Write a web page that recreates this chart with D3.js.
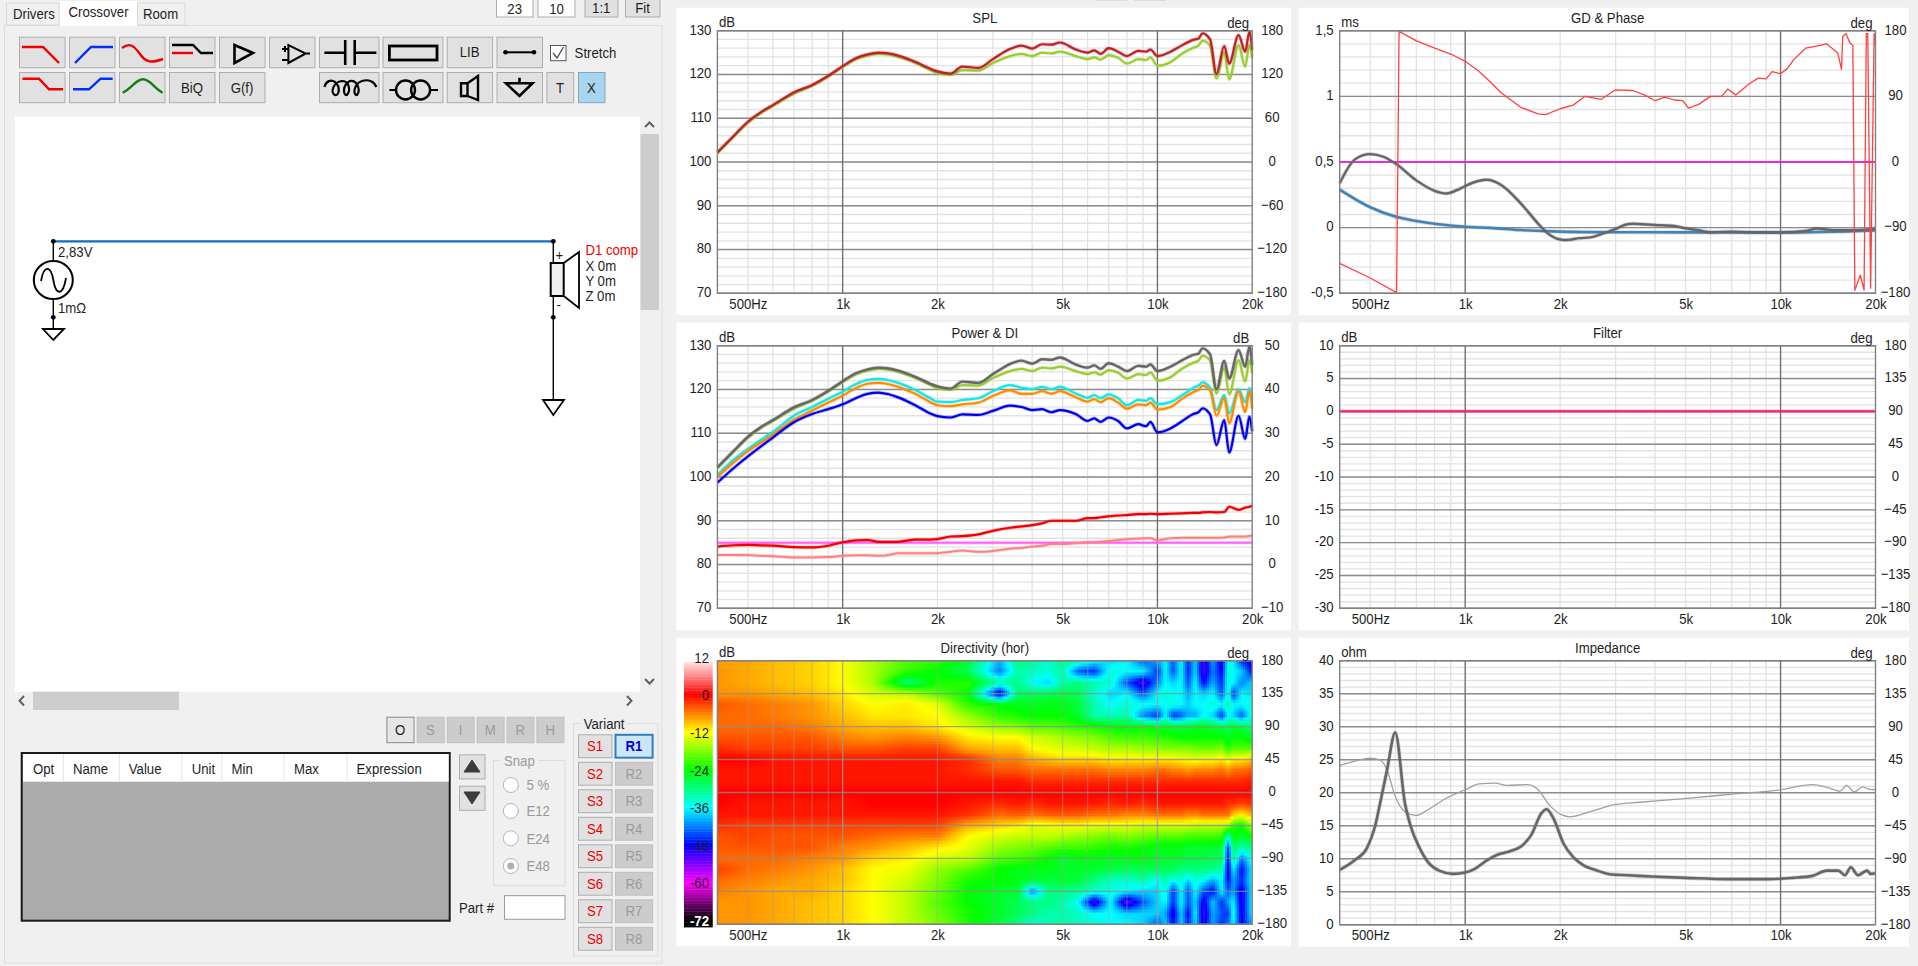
<!DOCTYPE html>
<html>
<head>
<meta charset="utf-8">
<script src="https://cdn.jsdelivr.net/npm/d3@7"></script>
<style>
body { margin: 0; background: #f0f0f0; overflow: hidden; }
text { font-family: "Liberation Sans", sans-serif; font-size: 15px; fill: #1e1e1e; }
</style>
</head>
<body>
<svg id="app" width="1918" height="966"></svg>
<script>
// frequency axis
var freqTicks = [500, 1000, 2000, 5000, 10000, 20000];
var freqLabels = ["500Hz", "1k", "2k", "5k", "10k", "20k"];
var freqMinor = [500, 600, 700, 800, 900, 2000, 3000, 4000, 5000, 6000, 7000, 8000, 9000];
var freqDecades = [1000, 10000];

// SPL and power curves, all on this grid
var freqs = [400,450,500,550,600,700,800,900,1000,1100,1200,1300,1400,1500,1700,1900,2000,2200,2400,2700,3000,3400,3700,4000,4300,4600,4900,5500,6000,6300,6600,7000,7500,8000,8700,9200,9500,10000,11000,12000,13000,13500,13900,14700,15400,16300,16900,18100,19000,19600,20000];
var splOnAxis = [102.2,105.9,109.2,111.4,113,115.9,117.6,119.7,121.9,123.7,124.6,125,124.8,124.3,122.9,121.3,120.7,120.2,121.8,121.5,123.5,125.8,126.6,125.9,126.9,126.8,127.3,125.7,125,125.5,124.7,126,125.2,124.2,125.4,125.2,125.7,124.2,125.2,126.7,127.9,128.2,129.4,128,120.1,126.5,122.5,129,125.2,129.8,125.6];
var splListening = [102.1,105.8,109,111.2,112.8,115.6,117.4,119.5,121.7,123.4,124.3,124.7,124.5,124,122.6,121,120.3,119.9,121,120.9,122.6,124.2,124.7,124.2,125,124.8,125.2,124.2,123.5,123.9,123.4,124.4,123.8,122.5,123.5,123.3,123.9,122,122.8,124.8,126.1,126.6,127.7,126.6,119.1,125,118.9,126.7,121.8,126.7,123.7];
var earlyRefl = [100.5,103.9,106.4,108.5,110.3,114,116,117.9,119.5,121.2,122.2,122.4,122.1,121.5,119.9,118,117.2,117.1,117.6,118,119.6,121,120.4,120.1,120.6,120.1,120.6,119.1,118.1,118.7,118,118.9,118,116.4,117.6,117.4,118,116.6,117.1,118.7,120.4,120.9,121.6,120.4,115.3,118.7,114.5,120.1,117.1,120.3,117.6];
var powerOrange = [100,103.3,105.9,107.9,109.7,113.1,115.2,117,118.6,120.3,121.3,121.5,121.2,120.6,119,117.1,116.4,116.2,116.6,117,118.5,119.8,119,119,119.6,119,119.6,118.2,117.2,117.8,117.1,118,117,115.6,116.6,116.4,117,115.4,116,117.9,119.4,119.9,120.8,119.8,114,118,112.3,119.6,114.8,119.6,115.6];
var powerBlue = [98.7,102,104.7,107,109,112.5,114.4,115.5,116.6,118,119,119.3,118.9,118.2,116.4,114.5,113.9,113.6,114.3,114.2,115.1,116.3,116,115.3,115.5,114.8,115.3,114.4,112.8,113.4,112.6,113.6,112.8,111.1,112.1,111.6,112.6,110.2,111.1,112.8,114.4,114.8,115.7,114.3,107.3,113,105.6,114,108.7,113.8,110.4];
var diRed = [4.1,4.4,4.5,4.4,4.3,4,3.9,4.3,5.1,5.5,5.6,5.2,5.2,5.2,5.7,5.7,5.8,6.4,6.5,6.9,7.7,8.4,8.7,9,9.4,10,10,10,10.6,10.6,10.8,11,11.2,11.3,11.5,11.5,11.6,11.5,11.6,11.7,11.8,11.8,11.9,12,11.9,12,13.2,12.5,13,13.2,13.4];
var diPink = [2.2,2.2,2.2,2,1.9,1.6,1.6,1.7,2,2.1,2.1,2,2.2,2.6,2.6,2.6,2.6,2.9,3.2,2.9,3.1,3.6,3.8,4.1,4.3,4.7,4.7,4.9,5.1,5.1,5.2,5.4,5.6,5.8,5.9,6,6,5.5,6,6.1,6.1,6.1,6.1,6.1,6.1,6.2,6.4,6.4,6.4,6.5,6.7];
var diFlat = [5, 5];
var flatFreqs = [400, 20000];

// group delay and phase
var phaseFreqs = [400,500,606,617,700,800,900,1000,1100,1200,1300,1500,1700,1800,2000,2200,2400,2700,3000,3400,3700,4000,4300,4600,4900,5100,5500,6000,6500,6800,7200,8000,8500,9000,9400,10000,10500,11000,12000,13000,14000,15200,15600,15750,16100,16600,16950,17200,17900,18400,18700,18900,19300,19800,19950,20000];
var phaseDeg = [-139,-159,-179,179,166,156,148,138,125,110,95,75,66,65,73,78,90,86,99,98,92,84,89,85,84,74,79,90,90,100,92,108,115,114,124,121,128,140,156,159,162,149,127,172,176,163,160,-176,-155,-175.5,176,176,-173,176,176,160];
var gdFreqs = [400,447,500,550,600,700,800,870,950,1000,1100,1170,1300,1500,1700,1800,2000,2100,2300,2500,2700,3000,3200,3400,4000,4600,5000,5500,6000,7000,8000,10000,12000,13000,15000,17000,20000];
var gdGray = [.338,.52,.56,.54,.49,.36,.28,.26,.29,.317,.355,.365,.325,.185,.033,-.03,-.09,-.094,-.08,-.074,-.05,-.01,.02,.03,.02,.013,-.005,-.02,-.035,-.03,-.035,-.035,-.025,-.007,-.02,-.02,-.007];
var gdBlueFreqs = [400,500,600,700,800,1000,1200,1500,2000,3000,5000,10000,20000];
var gdBlue = [.29,.155,.084,.05,.03,.007,-.002,-.018,-.03,-.035,-.036,-.038,-.022];
var gdFlat = [.5, .5];
var filterFlat = [0, 0];

// impedance
var zFreqs = [400,447,488,517,540,565,600,644,673,714,768,827,916,1000,1076,1175,1283,1380,1507,1620,1745,1813,1905,2050,2205,2372,2590,2913,3275,3905,5010,6800,9150,10900,12600,14000,15250,16000,16700,17600,18800,19300,20000];
var zOhm = [8.3,9.8,11.6,14.8,18.9,23.4,29.1,18.4,14.8,11.8,9.3,8.2,7.7,7.9,8.5,9.8,10.7,11.1,11.9,13.6,16.9,17.5,16.1,12.3,10.2,9,8.3,7.6,7.5,7.3,7.1,6.9,6.9,7.1,7.4,8.2,8.2,7.5,8.7,7.5,8.2,7.7,7.8];
var zPhaseFreqs = [400,447,500,540,565,600,644,700,757,851,1000,1108,1245,1360,1575,1695,1850,2020,2142,2520,3000,3580,4950,7020,10000,12620,14100,15400,16200,17100,18200,19000,20000];
var zPhase = [37,43,47,44,31,-5,-26,-31,-24,-10,4,12,13,10,11,5,-17,-30,-33,-25,-16,-13,-8,-2,4,11,7,2,10,1,8,5,4];

// directivity map, dB per angle row and frequency column
var heatFreqs = [400,500,630,800,1000,1250,1600,2000,2500,3150,3600,4000,4500,5000,5600,6300,7100,8000,9000,10000,10600,11200,11900,12500,13200,14000,15000,16000,16800,17400,18500,20000];
var heatAngles = [180,165,150,135,120,105,90,75,60,45,30,15,0,-15,-30,-45,-60,-75,-90,-105,-120,-135,-150,-165,-180];
var heatDb = [
 [-7.5,-8,-9,-10,-12,-16,-20,-22,-26,-40,-30,-31,-34,-30,-32,-36,-38,-36,-44,-40,-36,-44,-36,-46,-38,-52,-40,-50,-34,-36,-46,-50],
 [-7,-8,-9,-10,-12,-16,-22,-24,-28,-42,-32,-33,-34,-32,-44,-46,-34,-36,-36,-46,-36,-44,-36,-46,-38,-52,-42,-48,-34,-36,-38,-48],
 [-7,-8,-9,-10,-12,-16,-30,-23,-22,-32,-30,-36,-38,-32,-30,-32,-34,-44,-52,-42,-36,-38,-36,-44,-36,-48,-40,-46,-34,-36,-42,-38],
 [-7,-7,-8,-9,-11,-14,-15,-20,-24,-50,-29,-28,-28,-27,-28,-34,-38,-36,-44,-36,-34,-36,-36,-40,-36,-38,-36,-44,-34,-46,-36,-38],
 [-4,-5,-6,-7,-10,-12,-11,-13,-22,-24,-25,-25,-25,-25,-27,-32,-36,-34,-35,-36,-36,-34,-36,-38,-36,-36,-34,-36,-32,-36,-36,-34],
 [-5,-5,-6,-7,-9,-11,-11,-12,-17,-22,-23,-24,-24,-24,-26,-32,-33,-32,-42,-46,-36,-46,-44,-40,-40,-36,-38,-46,-36,-38,-44,-34],
 [-5,-5,-5,-6,-8,-9,-9,-11,-14,-17,-18,-20,-20,-21,-22,-23,-24,-25,-24,-25,-26,-26,-26,-26,-25,-25,-26,-27,-28,-26,-26,-30],
 [-4,-4,-4,-4,-6,-7,-6,-7,-11,-12,-12,-14,-15,-16,-17,-18,-20,-21,-21,-22,-22,-23,-24,-24,-24,-24,-24,-24,-26,-24,-24,-26],
 [-2,-3,-3,-3,-4,-4,-3,-3,-8,-9,-9,-12,-13,-14,-14,-15,-16,-16,-17,-17,-18,-18,-18,-18,-19,-19,-19,-18,-22,-20,-20,-20],
 [0,0,-1,-1,-1,-1,-1,-1,-2,-6,-6,-8,-9,-10,-10,-10,-11,-11,-11,-11,-11,-11,-12,-12,-13,-12,-12,-11,-13,-11,-11,-9],
 [-1,-1,-1,-1,-1,-1,-1,-1,-2,-4,-4,-5,-5,-5,-5,-5,-6,-6,-6,-5,-5,-6,-6,-7,-6,-6,-6,-5,-7,-5,-5,-4],
 [-1,-1,-1,-1,-1,-1,-1,-1,-1,-1,-1,-2,-2,-2,-2,-2,-2,-2,-2,-2,-2,-2,-2,-2,-2,-2,-2,-2,-2,-2,-2,-1],
 [0,0,0,0,0,0,0,0,0,0,0,0,0,0,0,0,0,0,0,0,0,0,0,0,0,0,0,0,0,0,0,0],
 [0,-1,-1,-1,-1,0,0,0,-1,-2,-1,-2,-1,-1,-1,-1,-2,-1,-2,-1,-1,-1,-1,-1,-1,-1,-1,-1,-2,-2,-3,-2],
 [-1,-1,-1,-1,-1,-1,-1,-1,-2,-5,-4,-5,-4,-4,-4,-5,-5,-6,-6,-5,-5,-5,-5,-6,-6,-5,-5,-5,-5,-9,-11,-8],
 [-2,-3,-3,-3,-3,-3,-3,-3,-8,-10,-11,-13,-13,-12,-12,-13,-13,-13,-14,-14,-14,-14,-14,-14,-15,-15,-15,-15,-16,-22,-24,-16],
 [-4,-3,-4,-4,-4,-5,-6,-6,-12,-14,-15,-15,-15,-16,-17,-18,-19,-18,-19,-20,-20,-20,-20,-21,-21,-21,-21,-22,-34,-24,-26,-24],
 [-4,-4,-4,-4,-6,-7,-9,-11,-13,-17,-18,-19,-20,-21,-21,-22,-23,-23,-24,-25,-25,-25,-25,-26,-26,-26,-26,-26,-46,-28,-32,-30],
 [-5,-5,-5,-6,-7,-10,-11,-14,-15,-20,-21,-22,-24,-26,-25,-25,-25,-25,-24,-26,-26,-26,-26,-27,-27,-27,-28,-28,-48,-30,-42,-34],
 [-3,-5,-6,-7,-9,-12,-13,-17,-20,-24,-25,-25,-25,-26,-26,-26,-27,-28,-28,-28,-28,-28,-30,-30,-30,-30,-30,-32,-50,-36,-48,-36],
 [-5,-6,-7,-8,-9,-12,-14,-18,-23,-24,-25,-26,-27,-26,-27,-30,-33,-34,-32,-36,-32,-36,-34,-38,-34,-36,-40,-36,-48,-40,-46,-36],
 [-6,-7,-8,-8,-10,-12,-15,-19,-24,-26,-26,-42,-30,-30,-31,-34,-35,-36,-38,-38,-34,-46,-36,-44,-36,-44,-48,-36,-44,-40,-50,-36],
 [-7,-7,-8,-9,-10,-12,-15,-20,-24,-26,-28,-30,-30,-32,-36,-52,-36,-54,-44,-38,-36,-46,-36,-44,-38,-50,-38,-46,-40,-36,-50,-36],
 [-7,-7,-8,-9,-10,-12,-15,-19,-23,-26,-28,-30,-32,-32,-33,-36,-36,-38,-38,-38,-40,-50,-38,-48,-36,-52,-40,-44,-46,-34,-50,-36],
 [-7,-7,-8,-9,-10,-12,-15,-18,-23,-27,-30,-34,-33,-32,-33,-34,-36,-36,-38,-44,-38,-48,-38,-46,-38,-50,-40,-46,-42,-36,-48,-40]
];
var colorDb = [12, 6, 0, -12, -24, -36, -48, -60, -72];
var colorStops = ["#ffffff", "#ff8a8a", "#ff0000", "#ffff00", "#00ff00", "#00ffff", "#0000ff", "#ff00ff", "#000000"];
var colorTicks = [12, 0, -12, -24, -36, -48, -60, -72];

// axis ticks
var splTicks = [70, 80, 90, 100, 110, 120, 130];
var deg60 = [-180, -120, -60, 0, 60, 120, 180];
var deg90 = [-180, -90, 0, 90, 180];
var deg45 = [-180, -135, -90, -45, 0, 45, 90, 135, 180];
var diTicks = [-10, 0, 10, 20, 30, 40, 50];
var gdTicks = [-0.5, 0, 0.5, 1, 1.5];
var filterTicks = [-30, -25, -20, -15, -10, -5, 0, 5, 10];
var zTicks = [0, 5, 10, 15, 20, 25, 30, 35, 40];

var svg = d3.select("#app");
var heatColor = d3.scaleLinear().domain(colorDb).range(colorStops).clamp(true);

var label = function(x, y, s, opt)
{
    opt = opt || {};
    return svg.append("text")
        .attr("transform", "translate(" + x + "," + y + ") scale(.88,1)")
        .attr("dy", ".35em")
        .attr("text-anchor", opt.anchor || "start")
        .style("fill", opt.color || null)
        .style("font-weight", opt.bold ? "bold" : null)
        .text(s);
}

var box = function(x0, y0, x1, y1, fill, stroke, w)
{
    return svg.append("rect")
        .attr("x", x0).attr("y", y0)
        .attr("width", x1 - x0).attr("height", y1 - y0)
        .attr("fill", fill)
        .attr("stroke", stroke || "none")
        .attr("stroke-width", w || 1);
}

var path = function(d, stroke, w, fill)
{
    return svg.append("path")
        .attr("d", d)
        .attr("fill", fill || "none")
        .attr("stroke", stroke || "#000")
        .attr("stroke-width", w || 2);
}

var numFmt = function(d)
{
    return String(d).replace(".", ",");
}

// one chart panel: white card, grid, axes
var drawPanel = function(p)
{
    var g = svg.append("g");
    g.append("rect")
        .attr("x", p.cardX0).attr("y", p.top - 23)
        .attr("width", p.cardX1 - p.cardX0).attr("height", p.bottom - p.top + 45)
        .attr("fill", "#fff");

    var x = d3.scaleLog().domain([400, 20000]).range([p.left, p.right]);
    var yL = d3.scaleLinear().domain(p.leftDomain).range([p.bottom, p.top]);
    var yR = d3.scaleLinear().domain(p.rightDomain).range([p.bottom, p.top]);

    if (p.under) p.under(x, yL, yR);

    var grid = svg.append("g");
    if (p.minorY)
    {
        grid.selectAll(".mh").data(p.minorY).enter().append("line")
            .attr("x1", p.left).attr("x2", p.right)
            .attr("y1", yL).attr("y2", yL)
            .attr("stroke", "#e2e2e2").attr("stroke-width", 1.3);
    }
    grid.selectAll(".mv").data(freqMinor).enter().append("line")
        .attr("x1", x).attr("x2", x)
        .attr("y1", p.top).attr("y2", p.bottom)
        .attr("stroke", p.heat ? "#a0a0a0" : "#e2e2e2")
        .attr("stroke-width", 1.3)
        .attr("stroke-opacity", p.heat ? 0.4 : 1);
    grid.selectAll(".my").data(p.leftTicks).enter().append("line")
        .attr("x1", p.left).attr("x2", p.right)
        .attr("y1", yL).attr("y2", yL)
        .attr("stroke", "#8c8c8c").attr("stroke-width", 1.4)
        .attr("stroke-opacity", p.heat ? 0.75 : 1);
    grid.selectAll(".mx").data(freqDecades).enter().append("line")
        .attr("x1", x).attr("x2", x)
        .attr("y1", p.top).attr("y2", p.bottom)
        .attr("stroke", p.heat ? "#999" : "#707070").attr("stroke-width", 1.4)
        .attr("stroke-opacity", p.heat ? 0.75 : 1);

    if (p.over) p.over(x, yL, yR);

    g = svg.append("g");
    g.append("rect")
        .attr("x", p.left).attr("y", p.top)
        .attr("width", p.right - p.left).attr("height", p.bottom - p.top)
        .attr("fill", "none").attr("stroke", "#808080").attr("stroke-width", 1.4);

    // axes from d3, only the text is kept
    var bottomAxis = d3.axisBottom(x).tickValues(freqTicks).tickSize(0)
        .tickFormat(function(d, i) { return freqLabels[i]; });
    var ax = g.append("g").attr("transform", "translate(0," + p.bottom + ")").call(bottomAxis);
    ax.select(".domain").remove();
    ax.selectAll("text").attr("y", 5).attr("dy", ".71em").attr("x", 0).attr("transform", "scale(.88,1)");

    if (!p.heat)
    {
        var leftAxis = d3.axisLeft(yL).tickValues(p.leftTicks).tickSize(0).tickFormat(numFmt);
        var al = g.append("g").attr("transform", "translate(" + (p.left - 6) + ",-1.5)").call(leftAxis);
        al.select(".domain").remove();
        al.selectAll("text").attr("x", 0).attr("transform", "scale(.88,1)");
    }

    var rightAxis = d3.axisRight(yR).tickValues(p.rightTicks).tickSize(0);
    var ar = g.append("g").attr("transform", "translate(" + (p.right + 20) + ",-1.5)").call(rightAxis);
    ar.select(".domain").remove();
    ar.selectAll("text").attr("x", 0).attr("text-anchor", "middle").attr("transform", "scale(.88,1)");

    g.selectAll("g text").style("font-size", "15px").style("font-family", null);

    label((p.left + p.right) / 2, p.top - 13, p.title, { anchor: "middle" });
    label(p.left + 1.5, p.top - 9, p.leftUnit);
    label(p.right - 3, p.top - 8, p.rightUnit, { anchor: "end" });
}

// curve with a soft edge like the blurred screenshot
var curve = function(parent, fr, vals, x, y, color, w, linear)
{
    var line = d3.line()
        .x(function(d) { return x(d[0]); })
        .y(function(d) { return y(d[1]); })
        .curve(linear ? d3.curveLinear : d3.curveMonotoneX);
    var pts = d3.zip(fr, vals);
    if (w >= 2)
    {
        parent.append("path").datum(pts).attr("d", line)
            .attr("fill", "none").attr("stroke", color)
            .attr("stroke-width", w + 1.6).attr("stroke-opacity", 0.25)
            .attr("stroke-linejoin", "round");
    }
    parent.append("path").datum(pts).attr("d", line)
        .attr("fill", "none").attr("stroke", color)
        .attr("stroke-width", w)
        .attr("stroke-linejoin", "round");
}

var minorSteps = function(a, b, step)
{
    return d3.range(a, b + step / 2, step);
}

var leftX = { left: 717.4, right: 1252.2, cardX0: 676.4, cardX1: 1291 };
var rightX = { left: 1339.7, right: 1875.5, cardX0: 1298.8, cardX1: 1909 };

// SPL
drawPanel(Object.assign({}, leftX, {
    title: "SPL", leftUnit: "dB", rightUnit: "deg", top: 30.7, bottom: 293.3,
    leftDomain: [70, 130], rightDomain: [-180, 180], leftTicks: splTicks, rightTicks: deg60,
    minorY: minorSteps(70, 130, 2),
    over: function(x, yL)
    {
        var c = svg.append("g");
        curve(c, freqs, splListening, x, yL, "#9acd32", 2.2);
        curve(c, freqs, splOnAxis, x, yL, "#bf2028", 2.2);
    }
}));

// Power & DI
drawPanel(Object.assign({}, leftX, {
    title: "Power & DI", leftUnit: "dB", rightUnit: "dB", top: 345.7, bottom: 608.3,
    leftDomain: [70, 130], rightDomain: [-10, 50], leftTicks: splTicks, rightTicks: diTicks,
    minorY: minorSteps(70, 130, 2),
    over: function(x, yL, yR)
    {
        var c = svg.append("g");
        curve(c, flatFreqs, diFlat, x, yR, "#ff60ff", 2, true);
        curve(c, freqs, diPink, x, yR, "#ff8080", 2);
        curve(c, freqs, diRed, x, yR, "#f00000", 2.2);
        curve(c, freqs, splListening, x, yL, "#9acd32", 2.2);
        curve(c, freqs, earlyRefl, x, yL, "#10e8e8", 2.2);
        curve(c, freqs, powerOrange, x, yL, "#ff8c00", 2.2);
        curve(c, freqs, powerBlue, x, yL, "#0000ee", 2.2);
        curve(c, freqs, splOnAxis, x, yL, "#666666", 2.4);
    }
}));

// Directivity map, cells from the matrix via the scales
drawPanel(Object.assign({}, leftX, {
    title: "Directivity (hor)", leftUnit: "dB", rightUnit: "deg", top: 660.7, bottom: 924.3, heat: true,
    leftDomain: [-180, 180], rightDomain: [-180, 180], leftTicks: deg45, rightTicks: deg45,
    under: function(x, yL)
    {
        var logF = heatFreqs.map(Math.log);
        var ang = heatAngles.slice().reverse();
        var lookup = function(f, a)
        {
            var lf = Math.log(f);
            var i = Math.min(Math.max(d3.bisectRight(logF, lf) - 1, 0), logF.length - 2);
            var j = Math.min(Math.max(d3.bisectRight(ang, a) - 1, 0), ang.length - 2);
            var tx = Math.max(0, Math.min(1, (lf - logF[i]) / (logF[i + 1] - logF[i])));
            var ty = Math.max(0, Math.min(1, (a - ang[j]) / (ang[j + 1] - ang[j])));
            var r0 = heatDb[heatDb.length - 1 - j], r1 = heatDb[heatDb.length - 2 - j];
            var v0 = r0[i] + (r0[i + 1] - r0[i]) * tx;
            var v1 = r1[i] + (r1[i + 1] - r1[i]) * tx;
            return v0 + (v1 - v0) * ty;
        }
        var cells = [];
        for (var px = 717; px < 1252; px += 2)
        {
            for (var py = 660.5; py < 924; py += 3)
            {
                cells.push({ px: px, py: py, v: lookup(x.invert(px + 1), yL.invert(py + 1.5)) });
            }
        }
        svg.append("g").selectAll("rect").data(cells).enter().append("rect")
            .attr("x", function(d) { return d.px; })
            .attr("y", function(d) { return d.py; })
            .attr("width", function(d) { return Math.min(2.5, 1252.2 - d.px); })
            .attr("height", function(d) { return Math.min(3.5, 924.3 - d.py); })
            .attr("fill", function(d) { return heatColor(d.v); });
    }
}));

// color bar
var barY = d3.scaleLinear().domain([12, -72]).range([657.5, 920.7]);
svg.append("g").selectAll("rect").data(d3.range(-74, 10.5, 0.5)).enter().append("rect")
    .attr("x", 684).attr("width", 28.7)
    .attr("y", function(d) { return barY(d + 0.5); })
    .attr("height", 2)
    .attr("fill", function(d) { return heatColor(d); });
colorTicks.forEach(function(d)
{
    label(709, barY(d), d, { anchor: "end", color: d == -72 ? "#fff" : null, bold: d == -72 });
});

// GD & Phase
drawPanel(Object.assign({}, rightX, {
    title: "GD & Phase", leftUnit: "ms", rightUnit: "deg", top: 30.7, bottom: 293.3,
    leftDomain: [-0.5, 1.5], rightDomain: [-180, 180], leftTicks: gdTicks, rightTicks: deg90,
    minorY: minorSteps(-0.5, 1.5, 0.1),
    over: function(x, yL, yR)
    {
        var c = svg.append("g");
        curve(c, flatFreqs, gdFlat, x, yL, "#ff00ff", 1.6, true);
        curve(c, gdBlueFreqs, gdBlue, x, yL, "#4682b4", 2.6);
        curve(c, gdFreqs, gdGray, x, yL, "#666666", 2.4);
        curve(c, phaseFreqs, phaseDeg, x, yR, "#ff4040", 1.3, true);
    }
}));

// Filter
drawPanel(Object.assign({}, rightX, {
    title: "Filter", leftUnit: "dB", rightUnit: "deg", top: 345.7, bottom: 608.3,
    leftDomain: [-30, 10], rightDomain: [-180, 180], leftTicks: filterTicks, rightTicks: deg45,
    minorY: minorSteps(-30, 10, 1),
    over: function(x, yL)
    {
        curve(svg.append("g"), flatFreqs, filterFlat, x, yL, "#ee2470", 2.4, true);
    }
}));

// Impedance
drawPanel(Object.assign({}, rightX, {
    title: "Impedance", leftUnit: "ohm", rightUnit: "deg", top: 660.7, bottom: 924.7,
    leftDomain: [0, 40], rightDomain: [-180, 180], leftTicks: zTicks, rightTicks: deg45,
    minorY: minorSteps(0, 40, 1),
    over: function(x, yL, yR)
    {
        var c = svg.append("g");
        curve(c, zPhaseFreqs, zPhase, x, yR, "#a0a0a0", 1.3);
        curve(c, zFreqs, zOhm, x, yL, "#666666", 2.6);
    }
}));

// left side: tabs and toolbar
box(4.5, 25.5, 662, 963, "#f0f0f0", "#dcdcdc");
box(6.5, 3, 59, 25, "#f0f0f0", "#d9d9d9");
box(60, 1, 137, 26, "#fff", "none");
box(137.5, 3, 185, 25, "#f0f0f0", "#d9d9d9");
label(13, 14, "Drivers");
label(68.5, 12, "Crossover");
label(143, 14, "Room");

var button = function(x0, y0, x1, y1, s, o)
{
    o = o || {};
    box(x0 + .5, y0 + .5, x1, y1, o.fill || "#e1e1e1", o.stroke || "#adadad", o.w || 1);
    if (s) label((x0 + x1) / 2, (y0 + y1) / 2, s, { anchor: "middle", color: o.color, bold: o.bold });
}

box(496.5, -1, 533, 17, "#fff", "#adadad");
box(538, -1, 575, 17, "#fff", "#adadad");
label(514.7, 8.5, "23", { anchor: "middle" });
label(556.5, 8.5, "10", { anchor: "middle" });
button(584.5, -1, 618, 17, "1:1");
button(625, -1, 660, 17, "Fit");
box(1096, -1, 1127, 1, "#dcdcdc", "none");
box(1134, -1, 1166, 1, "#dcdcdc", "none");

var row1 = [19, 69, 119, 169, 219, 269];
row1.forEach(function(x) { button(x, 36.7, x + 46, 67.7); });
[19, 69, 119].forEach(function(x) { button(x, 72, x + 46, 102.7); });
button(169, 72, 215, 102.7, "BiQ");
button(219, 72, 265, 102.7, "G(f)");
button(319, 36.7, 379, 67.7);
button(382.5, 36.7, 443, 67.7);
button(446.7, 36.7, 492.6, 67.7, "LIB");
button(496.5, 36.7, 542.5, 67.7);
button(319, 72, 379, 102.7);
button(382.5, 72, 443, 102.7);
button(446.7, 72, 492.6, 102.7);
button(496.5, 72, 542.5, 102.7);
button(546.4, 72, 573.7, 102.7, "T");
button(578, 72, 605, 102.7, "X", { fill: "#a8d4ee", stroke: "#7fa8c0" });

// toolbar icons
path("M22 47H43L59 63", "#f00000", 2.4);
path("M75 63L91 47H113", "#0030ff", 2.4);
path("M122 48C130 42 134 46 140 54C146 63 152 63 163 59", "#f00000", 2.4);
path("M172 45H193L201 53H213", "#000", 2.4);
path("M172 53H193", "#f00000", 2.4);
path("M234.5 45V63L253 53Z", "#000", 2.6);
path("M288.4 45V63L305.7 53.5ZM282 49H288M282 60H288M305 53.5H310M285 46V52", "#000", 2);
path("M324.4 52.7H345M345.2 40V65M354.7 40V65M354.7 52.7H376.4", "#000", 2.6);
box(389.4, 46, 437, 60, "none", "#000", 2.8);
path("M505 52.3H534", "#000", 2);
svg.append("circle").attr("cx", 505.5).attr("cy", 52.3).attr("r", 2.3);
svg.append("circle").attr("cx", 534).attr("cy", 52.3).attr("r", 2.3);
box(550.5, 45.5, 566, 60.7, "#fff", "#555");
path("M553 53L557 58L563.5 47", "#555", 1.4);
label(574.6, 52.5, "Stretch");

path("M22.5 78.7H39L49 89.3H63", "#f00000", 2.4);
path("M73 89.3H89L100.6 78.7H112.7", "#0030ff", 2.4);
path("M122.7 92.7C132 88 136 79.3 143 79.3C150 79.3 154 88 162.6 92.7", "#108010", 2.4);
path("M324.4 87C326 81 331 79 335 82C341 87 339 96 335 95C330 93 333 82 342 81C349 81 351 90 347 95C343 96 342 85 350 81C357 80 361 90 357 95C353 96 353 84 362 81C368 79 374 81 376.4 87", "#000", 2.2);
svg.append("circle").attr("cx", 405.5).attr("cy", 90).attr("r", 9.5).attr("fill", "none").attr("stroke", "#000").attr("stroke-width", 2.4);
svg.append("circle").attr("cx", 420.6).attr("cy", 90).attr("r", 9.5).attr("fill", "none").attr("stroke", "#000").attr("stroke-width", 2.4);
path("M389.4 90H396M430 90H438", "#000", 2);
path("M461 83.3H467.5V96H461ZM467.5 83.3L478 76V100L467.5 96", "#000", 2.4);
path("M519.5 77.7V83.3M506 83.3H532.5L519.5 96Z", "#000", 2.6);

// schematic canvas
box(15, 116.7, 640, 691.7, "#fff", "none");
box(640.5, 116.7, 659, 691.7, "#f0f0f0", "none");
box(640.5, 134, 659, 310, "#cdcdcd", "none");
path("M645 127L649.5 122.5L654 127", "#606060", 2);
path("M645 679L649.5 683.5L654 679", "#606060", 2);
box(33, 691.7, 179, 710, "#cdcdcd", "none");
path("M24 696L19.5 700.7L24 705.5", "#606060", 2);
path("M627 696L631.5 700.7L627 705.5", "#606060", 2);

path("M53.3 241.3V261M53.3 299V329", "#000", 1.4);
path("M553.3 241.3V263M553.3 296V400", "#000", 1.4);
path("M53.3 241.3H553.3", "#0f6cc0", 2.2);
[[53.3, 241.3], [553.3, 241.3], [53.3, 317.3], [553.3, 317.3]].forEach(function(d)
{
    svg.append("circle").attr("cx", d[0]).attr("cy", d[1]).attr("r", 2.4);
});
svg.append("ellipse").attr("cx", 53.3).attr("cy", 280).attr("rx", 19.5).attr("ry", 19)
    .attr("fill", "none").attr("stroke", "#000").attr("stroke-width", 2);
path("M41 281C44 264 51 266 53.3 280C56 296 63 296 66 278", "#000", 1.8);
path("M43 329H64L53.3 340Z", "#000", 1.8);
path("M543 400H564L553.3 415Z", "#000", 1.8);
box(550.7, 263, 563.7, 296, "#f0f0f0", "#000", 2);
path("M563.7 263L579 252V308L563.7 296", "#000", 1.8);
label(58, 252, "2,83V");
label(58, 308, "1mΩ");
label(555.5, 255, "+");
label(556.5, 305, "-");
label(585.4, 250, "D1 comp", { color: "#f00000" });
label(585.4, 265.7, "X  0m");
label(585.4, 280.7, "Y  0m");
label(585.4, 295.7, "Z  0m");

// lower controls
button(386.4, 716.7, 414, 742.7, "O", { fill: "#e6e6e6", stroke: "#888" });
var dimBtns = [[416.7, "S"], [446.7, "I"], [476.6, "M"], [506.5, "R"], [536.4, "H"]];
dimBtns.forEach(function(d)
{
    button(d[0], 716.7, d[0] + 27.5, 742.7, d[1], { fill: "#cccccc", stroke: "#bfbfbf", color: "#9a9a9a" });
});

box(21.7, 753, 449.7, 920.7, "#ababab", "#1a1a1a", 2);
box(23, 754, 448.7, 781.7, "#fff", "none");
[63.3, 119.3, 182, 222, 284, 347].forEach(function(x)
{
    path("M" + x + " 754V781.7", "#e4e4e4", 1);
});
var colNames = ["Opt", "Name", "Value", "Unit", "Min", "Max", "Expression"];
var colX = [33, 72.9, 128.8, 191.7, 231.6, 294, 356.5];
colNames.forEach(function(s, i) { label(colX[i], 769, s); });

button(459, 754.3, 485, 779);
path("M464 772H480L472 760Z", "#3c3c3c", 1, "#3c3c3c");
button(459, 785.7, 485, 810.3);
path("M464 792H480L472 804Z", "#3c3c3c", 1, "#3c3c3c");

box(493.5, 760.5, 565, 885.7, "none", "#dcdcdc");
box(500, 752, 538, 768, "#f0f0f0", "none");
label(504, 761, "Snap", { color: "#9a9a9a" });
var snapOpts = ["5 %", "E12", "E24", "E48"];
var snapY = [785, 811, 838.3, 866];
snapOpts.forEach(function(s, i)
{
    svg.append("circle").attr("cx", 510.8).attr("cy", snapY[i]).attr("r", 7.5)
        .attr("fill", "#fff").attr("stroke", "#b5b5b5");
    label(526.4, snapY[i], s, { color: "#9a9a9a" });
});
svg.append("circle").attr("cx", 510.8).attr("cy", 866).attr("r", 3.5).attr("fill", "#b0b0b0");

label(459, 907.7, "Part #");
box(504.5, 895.7, 565, 919.3, "#fff", "#9a9a9a");

box(573.5, 723.5, 658, 956, "none", "#dcdcdc");
box(580, 715, 626, 732, "#f0f0f0", "none");
label(583.7, 724, "Variant");
d3.range(1, 9).forEach(function(n, i)
{
    var yy = 734.3 + i * 27.5;
    button(578, yy, 612, yy + 23.4, "S" + n, { color: "#f00000" });
    if (n == 1) button(615, yy, 652.6, yy + 23.4, "R1", { fill: "#cde6f7", stroke: "#2e7fc0", w: 2, color: "#0000e0", bold: true });
    else button(615, yy, 652.6, yy + 23.4, "R" + n, { fill: "#cccccc", stroke: "#bfbfbf", color: "#9a9a9a" });
});
</script>
</body>
</html>
